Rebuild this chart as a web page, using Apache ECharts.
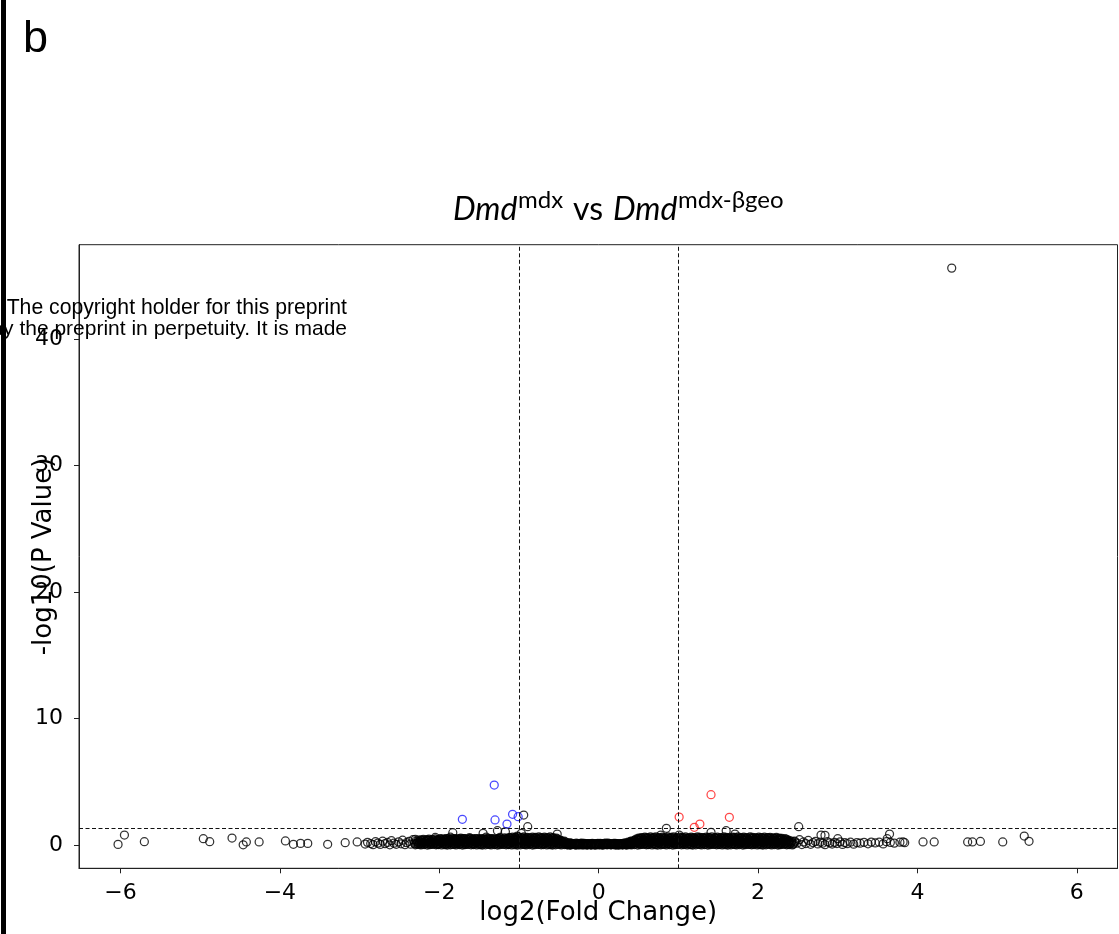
<!DOCTYPE html>
<html>
<head>
<meta charset="utf-8">
<script src="https://cdn.jsdelivr.net/npm/echarts@6/dist/echarts.min.js"></script>
<style>html,body{margin:0;padding:0;background:#fff;}#c{width:1119px;height:934px;}</style>
</head>
<body>
<div id="c"></div>
<script>
// ---- data (log2 fold change, -log10 p value) ----
const xTicks = [-6, -4, -2, 0, 2, 4, 6];
const yTicks = [0, 10, 20, 30, 40];
const foldCutoffs = [-1, 1];
const pCutoff = 1.30103;

const downRegulated = [[-1.31,4.74],[-1.71,2.03],[-1.30,1.98],[-1.08,2.43],[-1.01,2.24],[-1.15,1.66]];
const upRegulated = [[1.01,2.21],[1.41,3.98],[1.64,2.19],[1.20,1.40],[1.27,1.66]];

const sparseLeft = [[-6.03,0.05],[-5.95,0.79],[-5.70,0.26],[-4.96,0.50],[-4.88,0.26],[-4.60,0.55],[-4.46,0.02],[-4.42,0.24],[-4.26,0.24],[-3.93,0.32],[-3.83,0.06],[-3.74,0.13],[-3.65,0.13],[-3.40,0.06],[-3.18,0.18],[-3.03,0.24]];
const sparseRight = [[3.62,0.50],[3.65,0.87],[4.07,0.24],[4.21,0.24],[4.63,0.24],[4.69,0.24],[4.79,0.28],[5.07,0.24],[5.34,0.71],[5.40,0.29],[4.43,45.6]];
const nearThreshold = [[-0.94,2.37],[-0.89,1.45],[-1.83,0.97],[-1.45,0.92],[-1.27,1.13],[-1.17,1.05],[-0.52,0.87],[0.85,1.32],[0.78,0.79],[1.01,0.79],[1.41,1.00],[1.60,1.13],[1.71,0.87],[2.51,1.45],[2.79,0.79],[2.84,0.77],[3.00,0.50],[-2.30,0.45],[-1.73,0.55],[-1.02,0.71],[-0.97,0.92]];

const bandLeftTail = [[-2.93,0.08],[-2.90,0.21],[-2.86,0.12],[-2.83,0.03],[-2.80,0.26],[-2.77,0.15],[-2.74,0.05],[-2.71,0.30],[-2.68,0.11],[-2.65,0.20],[-2.62,0.02],[-2.60,0.34],[-2.57,0.14],[-2.54,0.06],[-2.51,0.25],[-2.48,0.10],[-2.46,0.38],[-2.43,0.03],[-2.41,0.18],[-2.38,0.29],[-2.36,0.07],[-2.33,0.42],[-2.31,0.13]];
const bandRightTail = [[2.46,0.31],[2.49,0.15],[2.52,0.42],[2.55,0.04],[2.57,0.24],[2.60,0.12],[2.63,0.36],[2.66,0.06],[2.69,0.19],[2.72,0.28],[2.75,0.09],[2.78,0.22],[2.81,0.14],[2.84,0.03],[2.87,0.26],[2.90,0.17],[2.93,0.08],[2.96,0.21],[2.99,0.12],[3.03,0.25],[3.06,0.05],[3.09,0.18],[3.12,0.11],[3.16,0.22],[3.20,0.07],[3.24,0.19],[3.28,0.14],[3.33,0.21],[3.38,0.10],[3.42,0.23],[3.47,0.16],[3.52,0.22],[3.57,0.09],[3.61,0.26],[3.66,0.20],[3.71,0.15],[3.78,0.22],[3.82,0.24],[3.84,0.18]];

const bandRow1 = [[-2.30,.02],[-2.26,.05],[-2.23,.01],[-2.19,.04],[-2.15,.00],[-2.12,.03],[-2.08,.05],[-2.04,.02],[-2.01,.04],[-1.97,.01],[-1.93,.03],[-1.90,.00],
[-1.86,.02],[-1.82,.05],[-1.79,.01],[-1.75,.04],[-1.71,.00],[-1.68,.03],[-1.64,.05],[-1.60,.02],[-1.57,.04],[-1.53,.01],[-1.49,.03],[-1.46,.00],
[-1.42,.02],[-1.38,.05],[-1.35,.01],[-1.31,.04],[-1.27,.00],[-1.24,.03],[-1.20,.05],[-1.16,.02],[-1.13,.04],[-1.09,.01],[-1.05,.03],[-1.02,.00],
[-0.98,.02],[-0.94,.05],[-0.91,.01],[-0.87,.04],[-0.83,.00],[-0.80,.03],[-0.76,.05],[-0.72,.02],[-0.69,.04],[-0.65,.01],[-0.61,.03],[-0.58,.00],
[-0.54,.02],[-0.50,.05],[-0.47,.01],[-0.43,.04],[-0.39,.00],[-0.36,.03],[-0.32,.05],[-0.28,.02],[-0.25,.04],[-0.21,.01],[-0.17,.03],[-0.14,.00],
[-0.10,.02],[-0.06,.05],[-0.03,.01],[0.01,.04],[0.05,.00],[0.08,.03],[0.12,.05],[0.16,.02],[0.19,.04],[0.23,.01],[0.27,.03],[0.30,.00],
[0.34,.02],[0.38,.05],[0.41,.01],[0.45,.04],[0.49,.00],[0.52,.03],[0.56,.05],[0.60,.02],[0.63,.04],[0.67,.01],[0.71,.03],[0.74,.00],
[0.78,.02],[0.82,.05],[0.85,.01],[0.89,.04],[0.93,.00],[0.96,.03],[1.00,.05],[1.04,.02],[1.07,.04],[1.11,.01],[1.15,.03],[1.18,.00],
[1.22,.02],[1.26,.05],[1.29,.01],[1.33,.04],[1.37,.00],[1.40,.03],[1.44,.05],[1.48,.02],[1.51,.04],[1.55,.01],[1.59,.03],[1.62,.00],
[1.66,.02],[1.70,.05],[1.73,.01],[1.77,.04],[1.81,.00],[1.84,.03],[1.88,.05],[1.92,.02],[1.95,.04],[1.99,.01],[2.03,.03],[2.06,.00],
[2.10,.02],[2.14,.05],[2.17,.01],[2.21,.04],[2.25,.00],[2.28,.03],[2.32,.05],[2.36,.02],[2.39,.04],[2.43,.01]];
const bandRow1b = [[-2.29,.07],[-2.25,.09],[-2.22,.06],[-2.18,.08],[-2.14,.10],[-2.11,.07],[-2.07,.09],[-2.03,.06],[-2.00,.08],[-1.96,.10],[-1.92,.07],[-1.89,.09],
[-1.85,.06],[-1.81,.08],[-1.78,.10],[-1.74,.07],[-1.70,.09],[-1.67,.06],[-1.63,.08],[-1.59,.10],[-1.56,.07],[-1.52,.09],[-1.48,.06],[-1.45,.08],
[-1.41,.10],[-1.37,.07],[-1.34,.09],[-1.30,.06],[-1.26,.08],[-1.23,.10],[-1.19,.07],[-1.15,.09],[-1.12,.06],[-1.08,.08],[-1.04,.10],[-1.01,.07],
[-0.97,.09],[-0.93,.06],[-0.90,.08],[-0.86,.10],[-0.82,.07],[-0.79,.09],[-0.75,.06],[-0.71,.08],[-0.68,.10],[-0.64,.07],[-0.60,.09],[-0.57,.06],
[-0.53,.08],[-0.49,.10],[-0.46,.07],[-0.42,.09],[-0.38,.06],[-0.35,.08],[-0.31,.07],[-0.27,.06],[-0.24,.08],[-0.20,.07],[-0.16,.06],[-0.13,.08],
[-0.09,.07],[-0.05,.06],[-0.02,.08],[0.02,.07],[0.06,.06],[0.09,.08],[0.13,.07],[0.17,.06],[0.20,.08],[0.24,.07],[0.28,.06],[0.31,.08],
[0.35,.07],[0.39,.09],[0.42,.06],[0.46,.08],[0.50,.10],[0.53,.07],[0.57,.09],[0.61,.06],[0.64,.08],[0.68,.10],[0.72,.07],[0.75,.09],
[0.79,.06],[0.83,.08],[0.86,.10],[0.90,.07],[0.94,.09],[0.97,.06],[1.01,.08],[1.05,.10],[1.08,.07],[1.12,.09],[1.16,.06],[1.19,.08],
[1.23,.10],[1.27,.07],[1.30,.09],[1.34,.06],[1.38,.08],[1.41,.10],[1.45,.07],[1.49,.09],[1.52,.06],[1.56,.08],[1.60,.10],[1.63,.07],
[1.67,.09],[1.71,.06],[1.74,.08],[1.78,.10],[1.82,.07],[1.85,.09],[1.89,.06],[1.93,.08],[1.96,.10],[2.00,.07],[2.04,.09],[2.07,.06],
[2.11,.08],[2.15,.10],[2.18,.07],[2.22,.09],[2.26,.06],[2.29,.08],[2.33,.10],[2.37,.07],[2.40,.09],[2.44,.06]];
const bandRow2 = [[-2.28,.14],[-2.24,.11],[-2.21,.16],[-2.17,.12],[-2.13,.17],[-2.10,.13],[-2.06,.15],[-2.02,.11],[-1.99,.16],[-1.95,.14],[-1.91,.12],[-1.88,.17],
[-1.84,.14],[-1.80,.11],[-1.77,.16],[-1.73,.12],[-1.69,.17],[-1.66,.13],[-1.62,.15],[-1.58,.11],[-1.55,.16],[-1.51,.14],[-1.47,.12],[-1.44,.17],
[-1.40,.14],[-1.36,.11],[-1.33,.16],[-1.29,.12],[-1.25,.17],[-1.22,.13],[-1.18,.15],[-1.14,.11],[-1.11,.16],[-1.07,.14],[-1.03,.12],[-1.00,.17],
[-0.96,.14],[-0.92,.11],[-0.89,.16],[-0.85,.12],[-0.81,.17],[-0.78,.13],[-0.74,.15],[-0.70,.11],[-0.67,.16],[-0.63,.14],[-0.59,.12],[-0.56,.17],
[-0.52,.14],[-0.48,.11],[-0.45,.16],[-0.41,.12],[-0.37,.15],[-0.34,.13],[-0.30,.12],[-0.26,.10],[-0.23,.13],[-0.19,.11],[-0.15,.12],[-0.12,.10],
[-0.08,.13],[-0.04,.11],[-0.01,.12],[0.03,.10],[0.07,.13],[0.10,.11],[0.14,.12],[0.18,.10],[0.21,.13],[0.25,.11],[0.29,.12],[0.32,.14],
[0.36,.13],[0.40,.16],[0.43,.12],[0.47,.17],[0.51,.13],[0.54,.15],[0.58,.11],[0.62,.16],[0.65,.14],[0.69,.12],[0.73,.17],[0.76,.14],
[0.80,.11],[0.84,.16],[0.87,.12],[0.91,.17],[0.95,.13],[0.98,.15],[1.02,.11],[1.06,.16],[1.09,.14],[1.13,.12],[1.17,.17],[1.20,.14],
[1.24,.11],[1.28,.16],[1.31,.12],[1.35,.17],[1.39,.13],[1.42,.15],[1.46,.11],[1.50,.16],[1.53,.14],[1.57,.12],[1.61,.17],[1.64,.14],
[1.68,.11],[1.72,.16],[1.75,.12],[1.79,.17],[1.83,.13],[1.86,.15],[1.90,.11],[1.94,.16],[1.97,.14],[2.01,.12],[2.05,.17],[2.08,.14],
[2.12,.11],[2.16,.16],[2.19,.12],[2.23,.17],[2.27,.13],[2.30,.15],[2.34,.11],[2.38,.16],[2.41,.14],[2.45,.12]];
const bandRow2b = [[-2.27,.22],[-2.23,.25],[-2.20,.21],[-2.16,.24],[-2.12,.23],[-2.09,.26],[-2.05,.22],[-2.01,.25],[-1.98,.21],[-1.94,.24],[-1.90,.23],[-1.87,.26],
[-1.83,.22],[-1.79,.25],[-1.76,.21],[-1.72,.24],[-1.68,.23],[-1.65,.26],[-1.61,.22],[-1.57,.25],[-1.54,.21],[-1.50,.24],[-1.46,.23],[-1.43,.26],
[-1.39,.22],[-1.35,.25],[-1.32,.21],[-1.28,.24],[-1.24,.23],[-1.21,.26],[-1.17,.22],[-1.13,.25],[-1.10,.21],[-1.06,.24],[-1.02,.23],[-0.99,.26],
[-0.95,.22],[-0.91,.25],[-0.88,.21],[-0.84,.24],[-0.80,.23],[-0.77,.26],[-0.73,.22],[-0.69,.25],[-0.66,.21],[-0.62,.24],[-0.58,.23],[-0.55,.26],
[-0.51,.22],[-0.47,.25],[-0.44,.21],[-0.40,.19],[-0.36,.17],
[0.37,.17],[0.41,.20],[0.44,.22],[0.48,.25],[0.52,.21],[0.55,.24],[0.59,.23],[0.63,.26],[0.66,.22],[0.70,.25],[0.74,.21],[0.77,.24],
[0.81,.23],[0.85,.26],[0.88,.22],[0.92,.25],[0.96,.21],[0.99,.24],[1.03,.23],[1.07,.26],[1.10,.22],[1.14,.25],[1.18,.21],[1.21,.24],
[1.25,.23],[1.29,.26],[1.32,.22],[1.36,.25],[1.40,.21],[1.43,.24],[1.47,.23],[1.51,.26],[1.54,.22],[1.58,.25],[1.62,.21],[1.65,.24],
[1.69,.23],[1.73,.26],[1.76,.22],[1.80,.25],[1.84,.21],[1.87,.24],[1.91,.23],[1.95,.26],[1.98,.22],[2.02,.25],[2.06,.21],[2.09,.24],
[2.13,.23],[2.17,.26],[2.20,.22],[2.24,.25],[2.28,.21],[2.31,.24],[2.35,.23],[2.39,.26],[2.42,.22],[2.46,.24]];
const bandRow3 = [[-2.29,.31],[-2.25,.27],[-2.22,.34],[-2.18,.29],[-2.14,.35],[-2.11,.28],[-2.07,.32],[-2.03,.30],[-2.00,.33],[-1.96,.27],[-1.92,.35],[-1.89,.30],
[-1.85,.31],[-1.81,.27],[-1.78,.34],[-1.74,.29],[-1.70,.35],[-1.67,.28],[-1.63,.32],[-1.59,.30],[-1.56,.33],[-1.52,.27],[-1.48,.35],[-1.45,.30],
[-1.41,.31],[-1.37,.27],[-1.34,.34],[-1.30,.29],[-1.26,.35],[-1.23,.28],[-1.19,.32],[-1.15,.30],[-1.12,.33],[-1.08,.27],[-1.04,.35],[-1.01,.30],
[-0.97,.31],[-0.93,.27],[-0.90,.34],[-0.86,.29],[-0.82,.35],[-0.79,.28],[-0.75,.32],[-0.71,.30],[-0.68,.33],[-0.64,.27],[-0.60,.35],[-0.57,.30],
[-0.53,.31],[-0.49,.27],[-0.46,.29],[-0.42,.24],
[0.37,.23],[0.40,.28],[0.44,.31],[0.48,.27],[0.51,.34],[0.55,.29],[0.59,.35],[0.62,.28],[0.66,.32],[0.70,.30],[0.73,.33],[0.77,.27],
[0.81,.35],[0.84,.30],[0.88,.31],[0.92,.27],[0.95,.34],[0.99,.29],[1.03,.35],[1.06,.28],[1.10,.32],[1.14,.30],[1.17,.33],[1.21,.27],
[1.25,.35],[1.28,.30],[1.32,.31],[1.36,.27],[1.39,.34],[1.43,.29],[1.47,.35],[1.50,.28],[1.54,.32],[1.58,.30],[1.61,.33],[1.65,.27],
[1.69,.35],[1.72,.30],[1.76,.31],[1.80,.27],[1.83,.34],[1.87,.29],[1.91,.35],[1.94,.28],[1.98,.32],[2.02,.30],[2.05,.33],[2.09,.27],
[2.13,.35],[2.16,.30],[2.20,.31],[2.24,.27],[2.27,.34],[2.31,.29],[2.35,.33],[2.38,.28],[2.42,.31]];
const bandRow3b = [[-2.26,.39],[-2.23,.41],[-2.19,.38],[-2.15,.40],[-2.12,.39],[-2.08,.41],[-2.04,.38],[-2.01,.40],[-1.97,.39],[-1.93,.41],[-1.90,.38],[-1.86,.40],
[-1.82,.39],[-1.79,.41],[-1.75,.38],[-1.71,.40],[-1.68,.39],[-1.64,.41],[-1.60,.38],[-1.57,.40],[-1.53,.39],[-1.49,.41],[-1.46,.38],[-1.42,.40],
[-1.38,.39],[-1.35,.41],[-1.31,.38],[-1.27,.40],[-1.24,.39],[-1.20,.41],[-1.16,.38],[-1.13,.40],[-1.09,.39],[-1.05,.41],[-1.02,.38],[-0.98,.40],
[-0.94,.39],[-0.91,.41],[-0.87,.38],[-0.83,.40],[-0.80,.39],[-0.76,.41],[-0.72,.38],[-0.69,.40],[-0.65,.39],[-0.61,.41],[-0.58,.38],[-0.54,.40],
[-0.50,.37],[-0.47,.34],[-0.43,.30],
[0.41,.30],[0.45,.35],[0.49,.38],[0.52,.40],[0.56,.39],[0.60,.41],[0.63,.38],[0.67,.40],[0.71,.39],[0.74,.41],[0.78,.38],[0.82,.40],
[0.85,.39],[0.89,.41],[0.93,.38],[0.96,.40],[1.00,.39],[1.04,.41],[1.07,.38],[1.11,.40],[1.15,.39],[1.18,.41],[1.22,.38],[1.26,.40],
[1.29,.39],[1.33,.41],[1.37,.38],[1.40,.40],[1.44,.39],[1.48,.41],[1.51,.38],[1.55,.40],[1.59,.39],[1.62,.41],[1.66,.38],[1.70,.40],
[1.73,.39],[1.77,.41],[1.81,.38],[1.84,.40],[1.88,.39],[1.92,.41],[1.95,.38],[1.99,.40],[2.03,.39],[2.06,.41],[2.10,.38],[2.14,.40],
[2.17,.39],[2.21,.41],[2.25,.38],[2.28,.40],[2.32,.37],[2.36,.39],[2.39,.36]];
const bandRow4 = [[-2.20,.45],[-2.16,.40],[-2.13,.47],[-2.09,.42],[-2.05,.48],[-2.02,.41],[-1.98,.46],[-1.94,.43],[-1.91,.49],[-1.87,.43],[-1.83,.51],[-1.80,.46],
[-1.76,.47],[-1.72,.43],[-1.69,.50],[-1.65,.45],[-1.61,.51],[-1.58,.44],[-1.54,.48],[-1.50,.46],[-1.47,.49],[-1.43,.43],[-1.39,.51],[-1.36,.46],
[-1.32,.47],[-1.28,.43],[-1.25,.50],[-1.21,.45],[-1.17,.51],[-1.14,.44],[-1.10,.48],[-1.06,.46],[-1.03,.49],[-0.99,.43],[-0.95,.51],[-0.92,.46],
[-0.88,.47],[-0.84,.43],[-0.81,.50],[-0.77,.45],[-0.73,.51],[-0.70,.44],[-0.66,.48],[-0.62,.46],[-0.59,.49],[-0.55,.43],[-0.51,.42],[-0.48,.38],
[0.45,.38],[0.49,.43],[0.53,.47],[0.56,.43],[0.60,.50],[0.64,.45],[0.67,.51],[0.71,.44],[0.75,.48],[0.78,.46],[0.82,.49],[0.86,.43],
[0.89,.51],[0.93,.46],[0.97,.47],[1.00,.43],[1.04,.50],[1.08,.45],[1.11,.51],[1.15,.44],[1.19,.48],[1.22,.46],[1.26,.49],[1.30,.43],
[1.33,.51],[1.37,.46],[1.41,.47],[1.44,.43],[1.48,.50],[1.52,.45],[1.55,.51],[1.59,.44],[1.63,.48],[1.66,.46],[1.70,.49],[1.74,.43],
[1.77,.51],[1.81,.46],[1.85,.47],[1.88,.43],[1.92,.50],[1.96,.45],[1.99,.51],[2.03,.44],[2.07,.48],[2.10,.46],[2.14,.49],[2.18,.43],
[2.21,.50],[2.25,.46],[2.29,.47],[2.32,.42],[2.36,.45]];
const bandRow4b = [[-1.99,.50],[-1.95,.49],[-1.91,.51],[-1.88,.50],[-1.84,.48],[-1.80,.50],[-1.77,.49],[-1.73,.51],[-1.69,.50],[-1.66,.48],[-1.62,.50],[-1.58,.49],
[-1.55,.51],[-1.51,.50],[-1.47,.48],[-1.44,.50],[-1.40,.49],[-1.36,.51],[-1.33,.50],[-1.29,.48],[-1.25,.50],[-1.22,.49],[-1.18,.56],[-1.14,.55],
[-1.11,.57],[-1.07,.54],[-1.03,.56],[-1.00,.55],[-0.96,.57],[-0.92,.54],[-0.89,.56],[-0.85,.55],[-0.81,.57],[-0.78,.54],[-0.74,.56],[-0.70,.55],
[-0.67,.57],[-0.63,.54],[-0.59,.56],[-0.56,.52],[-0.52,.48],
[0.47,.46],[0.51,.52],[0.54,.55],[0.58,.57],[0.62,.54],[0.65,.56],[0.69,.55],[0.73,.57],[0.76,.54],[0.80,.56],[0.84,.55],[0.87,.57],
[0.91,.54],[0.95,.56],[0.98,.55],[1.02,.57],[1.06,.54],[1.09,.56],[1.13,.55],[1.17,.57],[1.20,.54],[1.24,.56],[1.28,.55],[1.31,.57],
[1.35,.54],[1.39,.56],[1.42,.55],[1.46,.57],[1.50,.54],[1.53,.56],[1.57,.55],[1.61,.57],[1.64,.54],[1.68,.56],[1.72,.55],[1.75,.57],
[1.79,.54],[1.83,.56],[1.86,.55],[1.90,.57],[1.94,.54],[1.97,.56],[2.01,.55],[2.05,.57],[2.08,.54],[2.12,.56],[2.16,.55],[2.19,.53],
[2.23,.54],[2.27,.51],[2.30,.53],[2.34,.50]];
const bandRow5 = [[-2.05,.60],[-1.86,.62],[-1.62,.58],[-1.41,.63],[-1.24,.60],
[-1.12,.58],[-1.08,.63],[-1.05,.60],[-1.01,.65],[-0.97,.59],[-0.94,.64],[-0.90,.61],[-0.86,.57],[-0.83,.63],[-0.79,.60],[-0.75,.65],[-0.72,.58],[-0.68,.62],[-0.64,.59],[-0.61,.64],[-0.57,.58],[-0.53,.55],
[0.50,.55],[0.54,.59],[0.58,.63],[0.61,.58],[0.65,.64],[0.69,.60],[0.72,.65],[0.76,.59],[0.80,.62],[0.83,.57],[0.87,.64],[0.91,.61],[0.94,.65],[0.98,.58],[1.02,.63],[1.05,.60],[1.09,.64],[1.13,.57],[1.16,.62],[1.20,.59],[1.24,.65],[1.27,.61],[1.31,.58],[1.35,.63],[1.38,.60],[1.42,.65],[1.46,.58],[1.49,.62],[1.53,.59],[1.57,.64],[1.60,.60],[1.64,.57],[1.68,.63],[1.71,.61],[1.75,.65],[1.79,.58],[1.82,.62],[1.86,.59],[1.90,.64],[1.93,.60],[1.97,.57],[2.01,.63],[2.04,.59],[2.08,.62],[2.12,.58],[2.15,.61],[2.19,.56],[2.23,.60],[2.27,.55]];
const bandCentreC = [[-0.40,.05],[-0.38,.12],[-0.35,.00],[-0.33,.09],[-0.30,.04],[-0.28,.14],[-0.25,.01],[-0.23,.10],[-0.20,.05],[-0.18,.13],[-0.15,.02],[-0.13,.08],[-0.10,.04],[-0.08,.12],[-0.05,.00],[-0.03,.09],[0.00,.06],[0.02,.13],[0.05,.01],[0.07,.10],[0.10,.04],[0.12,.14],[0.15,.02],[0.17,.08],[0.20,.05],[0.22,.12],[0.25,.00],[0.27,.09],[0.30,.04],[0.32,.13],[0.35,.02],[0.37,.10],[0.40,.06]];
const bandCentreD = [[-0.39,.09],[-0.36,.02],[-0.34,.13],[-0.31,.06],[-0.29,.00],[-0.26,.11],[-0.24,.04],[-0.21,.14],[-0.19,.01],[-0.16,.09],[-0.14,.05],[-0.11,.12],[-0.09,.00],[-0.06,.08],[-0.04,.03],[-0.01,.13],[0.01,.01],[0.04,.10],[0.06,.05],[0.09,.14],[0.11,.02],[0.14,.09],[0.16,.06],[0.19,.13],[0.21,.00],[0.24,.08],[0.26,.03],[0.29,.12],[0.31,.06],[0.34,.14],[0.36,.01],[0.39,.09]];

const notSignificant = [].concat(sparseLeft, sparseRight, nearThreshold, bandLeftTail, bandRightTail,
  bandRow1, bandRow1b, bandRow2, bandRow2b, bandRow3, bandRow3b, bandRow4, bandRow4b, bandRow5, bandCentreC, bandCentreD);

// ---- chart ----
const chart = echarts.init(document.getElementById('c'), null, {renderer: 'canvas'});
const ring = (c) => ({color: 'rgba(0,0,0,0)', borderColor: c, borderWidth: 1.25});
const tickFont = {fontFamily: 'DejaVu Sans', fontSize: 22, color: '#000'};
const tickText = v => (v < 0 ? '\u2212' + Math.abs(v) : String(v));

chart.setOption({
  animation: false,
  backgroundColor: '#fff',
  grid: {left: 79, right: 1.5, top: 244.7, bottom: 65.7, outerBoundsMode: 'none', containLabel: false,
         show: true, borderColor: '#222', borderWidth: 1, backgroundColor: 'transparent'},
  xAxis: {
    type: 'value', min: -6.52, max: 6.51,
    splitLine: {show: false},
    axisLine: {show: true, onZero: false, lineStyle: {color: '#222', width: 1}},
    axisTick: {show: true, length: 5, lineStyle: {color: '#222'}, customValues: xTicks},
    axisLabel: Object.assign({margin: 14, customValues: xTicks, formatter: tickText}, tickFont),
    name: 'log2(Fold Change)', nameLocation: 'middle', nameGap: 32, nameMoveOverlap: false,
    nameTextStyle: {fontFamily: 'DejaVu Sans', fontSize: 26, color: '#000'}
  },
  yAxis: {
    type: 'value', min: -1.84, max: 47.45,
    splitLine: {show: false},
    axisLine: {show: true, onZero: false, lineStyle: {color: '#222', width: 1}},
    axisTick: {show: true, length: 5, lineStyle: {color: '#222'}, customValues: yTicks},
    axisLabel: Object.assign({margin: 16, customValues: yTicks, formatter: tickText}, tickFont),
    name: '-log10(P Value)', nameLocation: 'middle', nameGap: 22, nameMoveOverlap: false,
    nameTextStyle: {fontFamily: 'DejaVu Sans', fontSize: 26, color: '#000'}
  },
  series: [
    {
      type: 'scatter', name: 'ns', data: notSignificant, symbol: 'circle', symbolSize: 8,
      itemStyle: ring('#000'), silent: true, large: false, progressive: 0,
      markLine: {
        silent: true, symbol: 'none', label: {show: false},
        lineStyle: {color: '#111', width: 1, type: [4, 2.5]},
        data: [{xAxis: foldCutoffs[0]}, {xAxis: foldCutoffs[1]}, {yAxis: pCutoff}]
      }
    },
    {type: 'scatter', name: 'down', data: downRegulated, symbol: 'circle', symbolSize: 8, itemStyle: ring('#1a1aff'), silent: true},
    {type: 'scatter', name: 'up', data: upRegulated, symbol: 'circle', symbolSize: 8, itemStyle: ring('#ff1a1a'), silent: true}
  ],
  graphic: [
    {type: 'text', style: {x: 347, y: 308, text: '2021. The copyright holder for this preprint', font: '21.2px "Liberation Sans"', fill: '#000', align: 'right', verticalAlign: 'middle'}, z: 100},
    {type: 'text', style: {x: 347, y: 329, text: 'display the preprint in perpetuity. It is made', font: '21px "Liberation Sans"', fill: '#000', align: 'right', verticalAlign: 'middle'}, z: 100},
    {type: 'rect', shape: {x: 1, y: 0, width: 5, height: 934}, style: {fill: '#000'}, z: 101},
    {type: 'text', style: {x: 23, y: 40, text: 'b', font: '45px "Liberation Sans"', fill: '#000', verticalAlign: 'middle'}, z: 101},
    {type: 'text', style: {x: 453, y: 210, text: 'Dmd', font: 'italic 32px Lato', fill: '#000', verticalAlign: 'middle'}, z: 101},
    {type: 'text', style: {x: 518, y: 200, text: 'mdx', font: '24px Lato', fill: '#000', verticalAlign: 'middle'}, z: 101},
    {type: 'text', style: {x: 573, y: 210, text: 'vs', font: '32px Lato', fill: '#000', verticalAlign: 'middle'}, z: 101},
    {type: 'text', style: {x: 613, y: 210, text: 'Dmd', font: 'italic 32px Lato', fill: '#000', verticalAlign: 'middle'}, z: 101},
    {type: 'text', style: {x: 678, y: 200, text: 'mdx-βgeo', font: '24px Lato', fill: '#000', verticalAlign: 'middle'}, z: 101}
  ]
});
</script>
</body>
</html>
